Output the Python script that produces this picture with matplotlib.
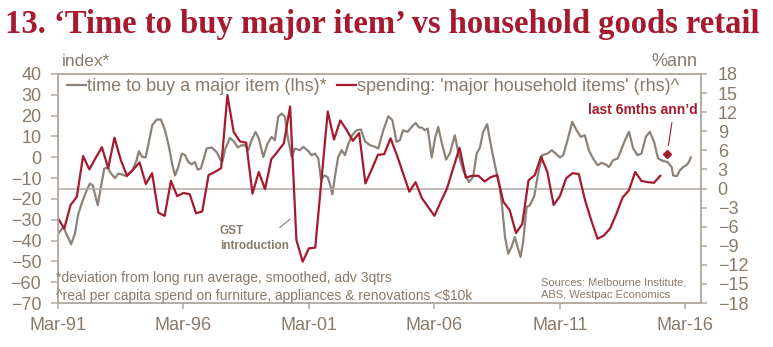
import numpy as np
import matplotlib
matplotlib.use("Agg")
import matplotlib.pyplot as plt

plt.rcParams['font.family'] = ['Liberation Sans', 'DejaVu Sans']

# 'time to buy a major item' index (lhs), decimal years
grey_dates = [1991.18, 1991.38, 1991.69, 1991.84, 1991.98, 1992.13, 1992.31, 1992.44, 1992.55, 1992.75,
              1992.88, 1993.01, 1993.15, 1993.28, 1993.44, 1993.57, 1993.70, 1993.90, 1994.13, 1994.30,
              1994.39, 1994.52, 1994.66, 1994.79, 1994.92, 1995.10, 1995.27, 1995.43, 1995.59, 1995.72,
              1995.83, 1995.96, 1996.10, 1996.23, 1996.36, 1996.49, 1996.62, 1996.73, 1996.86, 1996.96,
              1997.09, 1997.29, 1997.49, 1997.65, 1997.72, 1997.83, 1998.02, 1998.19, 1998.33, 1998.49,
              1998.62, 1998.75, 1998.88, 1999.04, 1999.17, 1999.35, 1999.52, 1999.68, 1999.81, 1999.94,
              2000.08, 2000.21, 2000.32, 2000.48, 2000.61, 2000.81, 2000.94, 2001.14, 2001.27, 2001.41,
              2001.54, 2001.65, 2001.78, 2001.91, 2002.00, 2002.10, 2002.20, 2002.33, 2002.47, 2002.60,
              2002.73, 2002.89, 2003.07, 2003.24, 2003.40, 2003.60, 2003.80, 2003.93, 2004.13, 2004.33,
              2004.49, 2004.66, 2004.79, 2004.92, 2005.10, 2005.26, 2005.42, 2005.55, 2005.66, 2005.79,
              2005.90, 2006.06, 2006.19, 2006.32, 2006.45, 2006.63, 2006.78, 2006.98, 2007.14, 2007.31,
              2007.54, 2007.71, 2007.85, 2007.98, 2008.11, 2008.27, 2008.38, 2008.51, 2008.71, 2008.84,
              2008.98, 2009.11, 2009.24, 2009.37, 2009.48, 2009.60, 2009.71, 2009.84, 2009.97, 2010.14,
              2010.30, 2010.46, 2010.68, 2010.84, 2011.00, 2011.17, 2011.30, 2011.47, 2011.66, 2011.83,
              2012.00, 2012.16, 2012.32, 2012.49, 2012.67, 2012.83, 2012.99, 2013.12, 2013.29, 2013.47,
              2013.60, 2013.76, 2013.92, 2014.09, 2014.26, 2014.42, 2014.59, 2014.75, 2014.92, 2015.08,
              2015.28, 2015.46, 2015.62, 2015.68, 2015.82, 2015.95, 2016.08, 2016.21, 2016.31, 2016.38]
grey_vals = [-36.7, -33.5, -41.8, -36.7, -27.0, -21.5, -15.9, -12.6, -13.5, -23.0,
             -14.3, -5.4, -5.0, -7.8, -10.0, -7.8, -8.2, -9.1, -6.3, -1.4,
             2.9, 0.2, -0.1, 7.4, 15.4, 18.1, 18.1, 13.0, 5.0, -3.5,
             -8.7, -4.7, 1.8, 1.0, -2.3, -3.4, -2.3, -5.9, -5.4, -1.4,
             4.2, 4.7, 2.5, -1.4, -2.0, 4.0, 9.3, 7.4, 4.7, 5.8,
             5.8, 3.4, 8.2, 12.2, 9.0, 0.1, 6.6, 9.8, 8.2, 19.4,
             21.0, 19.4, 9.8, 0.1, 4.2, 3.4, 5.0, 3.0, 1.0, 1.8,
             -0.6, -11.0, -8.7, -9.5, -12.7, -17.8, -9.5, 0.1, 3.4, 1.0,
             6.2, 10.6, 13.0, 13.3, 7.7, 5.8, 5.0, 4.2, 13.0, 19.7,
             17.8, 7.4, 8.2, 13.0, 12.2, 14.6, 16.5, 14.3, 14.3, 13.0,
             13.8, -0.1, 9.0, 14.6, 7.4, -1.1, 1.8, 10.6, 1.0, -6.3,
             -11.9, -9.5, 1.8, 4.7, 12.2, 15.9, 8.2, 0.1, -11.0, -20.7,
             -38.3, -46.3, -43.1, -38.3, -43.1, -47.9, -39.9, -23.9, -23.1, -18.8,
             -8.0, 1.0, 1.8, 3.4, 1.8, -0.1, 1.0, 8.2, 17.0, 13.0,
             9.8, 10.6, 3.4, -0.6, -3.8, -2.7, -3.4, -4.7, -1.4, -0.6,
             3.4, 8.2, 12.2, 4.2, 1.0, 1.8, 9.8, 12.2, 7.4, -0.6,
             -1.8, -2.3, -4.7, -8.7, -9.1, -6.3, -4.7, -3.8, -2.3, -0.1]

# spending on major household items, %ann (rhs), quarterly from Mar-91
red_start = 1991.167
red_vals = [-4.7, -6.3, -2.6, -1.3, 5.1, 3.0, 4.8, 6.5, 3.2, 8.0,
            4.5, 2.0, 3.0, 4.1, 0.7, 2.4, -3.8, -4.3, 1.2, -1.2,
            -0.7, -0.9, -3.9, -3.6, 2.1, 2.6, 3.2, 14.7, 8.9, 7.4,
            7.2, -0.8, 2.6, -0.1, 4.6, 5.8, 7.1, 12.9, -8.1, -11.5,
            -9.4, -9.3, 1.4, 12.1, 7.7, 10.7, 9.2, 7.5, 8.7, 0.8,
            3.0, 5.3, 5.4, 7.9, 5.3, 2.4, -0.5, 1.0, -1.5, -2.9,
            -4.3, -2.1, 0.0, 3.2, 6.4, 1.7, 2.0, 2.0, 1.1, 1.8,
            2.1, -2.1, -3.4, -7.0, -5.6, 1.3, 2.1, 5.0, 2.6, -2.6,
            -1.2, 1.6, 2.4, 2.3, -1.8, -5.0, -7.9, -7.4, -6.3, -4.0,
            -1.4, -0.3, 2.6, 1.2, 1.0, 0.9, 2.0]
red_dates = red_start + 0.25 * np.arange(len(red_vals))

# last 6 months annualised
last6_date = 2015.42
last6_val = 5.4

tick_years = [1991.167, 1996.167, 2001.167, 2006.167, 2011.167, 2016.167]
tick_labels = ['Mar-91', 'Mar-96', 'Mar-01', 'Mar-06', 'Mar-11', 'Mar-16']

RED = '#a6192e'
GREY = '#8c8279'
TXT = '#8b7a69'
SPINE = '#b3aaa0'

fig = plt.figure(figsize=(7.73, 3.47), dpi=100)
ax = fig.add_axes([58 / 773, 1 - 303 / 347, 643 / 773, 229 / 347])
ax2 = ax.twinx()

ax.plot(grey_dates, grey_vals, color=GREY, lw=1.6, label='time to buy a major item (lhs)*')
ax2.plot(red_dates, red_vals, color=RED, lw=1.6, label="spending: 'major household items' (rhs)^")
ax2.axhline(0, color=SPINE, lw=1.1, zorder=0)
ax2.plot([last6_date], [last6_val], marker='D', color=RED, ms=4.5, ls='none')

ax.set_xlim(1991.167, 2016.79)
ax.set_ylim(-70, 40)
ax.set_yticks(np.arange(-70, 41, 10))
ax2.set_ylim(-18, 18)
ax2.set_yticks(np.arange(-18, 19, 3))
ax.set_xticks(tick_years)
ax.set_xticklabels(tick_labels)

for a in (ax, ax2):
    for s in a.spines.values():
        s.set_color(SPINE)
        s.set_linewidth(1.1)
ax.tick_params(axis='y', colors=SPINE, labelcolor=TXT, labelsize=13, length=5, width=1.1, pad=7)
ax.tick_params(axis='x', colors=SPINE, labelcolor=TXT, labelsize=13, length=4, width=1.1, pad=6)
ax2.tick_params(axis='y', colors=SPINE, labelcolor=TXT, labelsize=13, length=4, width=1.1, pad=8)

h1, l1 = ax.get_legend_handles_labels()
h2, l2 = ax2.get_legend_handles_labels()
ax2.legend(h1 + h2, l1 + l2, loc='upper left', bbox_to_anchor=(67 / 773, 1 - 78 / 347),
           bbox_transform=fig.transFigure, ncol=2, frameon=False, fontsize=13,
           handlelength=1.05, handletextpad=0.05, columnspacing=0.6, borderpad=0,
           borderaxespad=0, labelcolor=TXT)

fig.text(5 / 773, 1 - 33 / 347, "13. \u2018Time to buy major item\u2019 vs household goods retail",
         family='Liberation Serif', weight='bold', fontsize=23.5, color=RED, va='baseline')
fig.text(62 / 773, 1 - 61 / 347, 'index*', fontsize=12.5, color=TXT, va='center')
fig.text(697 / 773, 1 - 62 / 347, '%ann', fontsize=13, color=TXT, va='center', ha='right')

ax.text(1997.62, -39, 'GST\nintroduction', fontsize=8.5, weight='bold', color=TXT,
        va='center', linespacing=1.3)
ax.plot([2000.01, 2000.41], [-33.7, -29.8], color=TXT, lw=0.8)

ax2.text(2016.67, 12.4, 'last 6mths ann\u2019d', fontsize=10, weight='bold', color=RED,
         ha='right', va='center')
ax2.plot([2015.63, 2015.49], [10.3, 6.8], color=RED, lw=0.8)

fig.text(56 / 773, 1 - 278 / 347, '*deviation from long run average, smoothed, adv 3qtrs',
         fontsize=10, color=TXT, va='center')
fig.text(56 / 773, 1 - 296 / 347, '^real per capita spend on furniture, appliances & renovations <$10k',
         fontsize=10, color=TXT, va='center')
fig.text(541 / 773, 1 - 288.5 / 347, 'Sources: Melbourne Institute,\nABS, Westpac Economics',
         fontsize=8, color=TXT, va='center', linespacing=1.25)

fig.savefig('out.png', dpi=100)
